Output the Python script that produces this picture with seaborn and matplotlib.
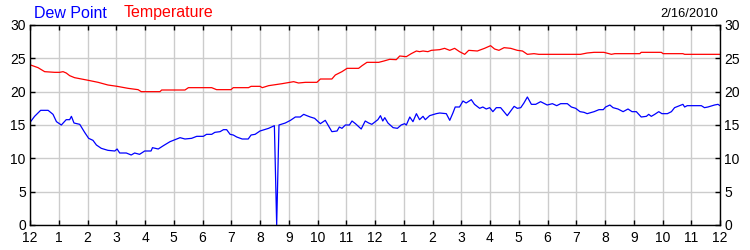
import matplotlib
matplotlib.use("Agg")
import matplotlib.pyplot as plt
import seaborn as sns
import pandas as pd

# ---- data (hours since midnight, values) ----
temp_hours = [0.02, 0.28, 0.51, 0.86, 1.03, 1.15, 1.26, 1.38, 1.55, 2.03, 2.37, 2.71, 3.03,
              3.41, 3.76, 3.87, 4.16, 4.52, 4.58, 5.39, 5.51, 6.32, 6.49, 6.99, 7.07, 7.60,
              7.69, 8.00, 8.08, 8.30, 8.77, 9.17, 9.34, 9.58, 9.98, 10.10, 10.50, 10.62,
              10.85, 11.03, 11.43, 11.55, 11.72, 12.13, 12.31, 12.51, 12.74, 12.86, 13.09,
              13.26, 13.44, 13.55, 13.67, 13.84, 13.96, 14.25, 14.42, 14.60, 14.77, 14.94,
              15.12, 15.26, 15.56, 15.81, 16.02, 16.16, 16.31, 16.49, 16.72, 16.95, 17.13,
              17.30, 17.53, 17.70, 19.15, 19.38, 19.62, 19.96, 20.14, 20.22, 20.34, 21.21,
              21.26, 21.96, 22.02, 22.71, 22.77, 24.00]
temp_values = [24.0, 23.6, 23.0, 22.9, 22.9, 23.0, 22.8, 22.4, 22.1, 21.7, 21.4, 21.0, 20.8,
               20.5, 20.3, 20.0, 20.0, 20.0, 20.25, 20.25, 20.6, 20.6, 20.3, 20.3, 20.6, 20.6,
               20.8, 20.8, 20.6, 20.9, 21.2, 21.5, 21.3, 21.4, 21.4, 21.9, 21.9, 22.5,
               23.0, 23.5, 23.5, 23.9, 24.4, 24.4, 24.6, 24.85, 24.8, 25.35, 25.25,
               25.7, 26.1, 26.0, 26.1, 26.0, 26.2, 26.3, 26.5, 26.2, 26.5, 26.0,
               25.6, 26.2, 26.1, 26.5, 26.9, 26.4, 26.2, 26.6, 26.5, 26.2, 26.1,
               25.6, 25.7, 25.6, 25.6, 25.8, 25.9, 25.9, 25.7, 25.6, 25.7, 25.7,
               25.9, 25.9, 25.7, 25.7, 25.6, 25.6]

dew_hours = [0.02, 0.16, 0.37, 0.63, 0.80, 0.92, 1.09, 1.26, 1.38, 1.44, 1.53, 1.73, 1.90,
             2.04, 2.19, 2.31, 2.48, 2.71, 2.95, 3.03, 3.12, 3.35, 3.52, 3.64, 3.81, 3.99,
             4.21, 4.26, 4.46, 4.64, 4.87, 5.04, 5.22, 5.39, 5.62, 5.80, 6.03, 6.14, 6.32,
             6.43, 6.61, 6.73, 6.84, 6.96, 7.07, 7.19, 7.38, 7.59, 7.69, 7.83, 8.00, 8.30,
             8.50, 8.58, 8.66, 8.88, 9.06, 9.23, 9.40, 9.52, 9.63, 9.75, 9.90, 10.10,
             10.27, 10.50, 10.68, 10.76, 10.85, 10.97, 11.11, 11.20, 11.32, 11.52, 11.66,
             11.78, 11.89, 12.01, 12.10, 12.19, 12.27, 12.34, 12.45, 12.63, 12.78, 12.91,
             13.03, 13.09, 13.21, 13.32, 13.44, 13.55, 13.67, 13.75, 13.90, 14.13, 14.25,
             14.48, 14.60, 14.71, 14.79, 14.94, 15.06, 15.17, 15.35, 15.46, 15.64, 15.75,
             15.87, 15.99, 16.10, 16.22, 16.37, 16.60, 16.84, 16.95, 17.07, 17.18, 17.30,
             17.44, 17.59, 17.76, 17.99, 18.17, 18.32, 18.46, 18.69, 18.83, 18.98, 19.13,
             19.27, 19.38, 19.62, 19.79, 19.94, 20.02, 20.17, 20.28, 20.45, 20.63, 20.80,
             20.94, 21.09, 21.26, 21.44, 21.52, 21.61, 21.73, 21.87, 21.98, 22.17, 22.31,
             22.42, 22.60, 22.71, 22.77, 22.86, 23.35, 23.46, 23.58, 23.81, 23.93, 24.00]
dew_values = [15.5, 16.3, 17.2, 17.2, 16.6, 15.5, 15.0, 15.8, 15.8, 16.3, 15.3, 15.1, 13.9,
              13.0, 12.7, 12.0, 11.5, 11.2, 11.1, 11.4, 10.8, 10.8, 10.5, 10.8, 10.6, 11.1,
              11.1, 11.6, 11.4, 11.9, 12.5, 12.8, 13.1, 12.9, 13.0, 13.3, 13.3, 13.6, 13.6,
              13.9, 14.0, 14.3, 14.3, 13.6, 13.5, 13.2, 12.9, 12.9, 13.5, 13.6, 14.1, 14.5,
              14.9, 0.0, 15.0, 15.3, 15.7, 16.2, 16.2, 16.6, 16.4, 16.2, 16.0, 15.2,
              15.7, 14.0, 14.1, 14.7, 14.5, 15.0, 15.0, 15.6, 15.2, 14.4, 15.6,
              15.3, 15.1, 15.5, 15.8, 16.4, 15.6, 16.1, 15.3, 14.6, 14.5, 15.0,
              15.2, 15.0, 16.2, 15.5, 16.7, 15.8, 16.3, 15.8, 16.4, 16.7, 16.8,
              16.7, 15.7, 16.8, 17.7, 17.7, 18.6, 18.3, 18.8, 18.1, 17.5, 17.7,
              17.4, 17.6, 17.0, 17.6, 17.6, 16.4, 17.8, 17.5, 17.6, 18.3, 19.2,
              18.1, 18.1, 18.5, 18.0, 18.2, 17.9, 18.2, 18.2, 17.7, 17.5, 17.0,
              16.9, 16.7, 17.0, 17.3, 17.3, 17.7, 18.0, 17.6, 17.4, 17.0, 17.4,
              17.0, 17.0, 16.2, 16.3, 16.6, 16.3, 16.6, 17.0, 16.7, 16.7, 17.0,
              17.6, 17.9, 18.1, 17.7, 17.9, 17.9, 17.6, 17.7, 18.0, 18.1, 17.9]

hour_ticks = list(range(0, 25))
hour_labels = ["12", "1", "2", "3", "4", "5", "6", "7", "8", "9", "10", "11",
               "12", "1", "2", "3", "4", "5", "6", "7", "8", "9", "10", "11", "12"]
y_ticks = [0, 5, 10, 15, 20, 25, 30]
date_label = "2/16/2010"

# ---- figure ----
sns.set_theme(style="white")
plt.rcParams["font.family"] = ["Liberation Sans", "DejaVu Sans"]

fig = plt.figure(figsize=(7.5, 2.5), dpi=100)
ax = fig.add_axes([0.04, 0.1, 0.92, 0.8])

temp_df = pd.DataFrame({"hour": temp_hours, "value": temp_values})
dew_df = pd.DataFrame({"hour": dew_hours, "value": dew_values})

sns.lineplot(data=temp_df, x="hour", y="value", ax=ax, color="#ff0000",
             linewidth=0.9, estimator=None, sort=False)
sns.lineplot(data=dew_df, x="hour", y="value", ax=ax, color="#0000ff",
             linewidth=0.9, estimator=None, sort=False)

ax.set_xlim(0, 24)
ax.set_ylim(0, 30)
ax.set_xticks(hour_ticks)
ax.set_xticklabels(hour_labels)
ax.set_yticks(y_ticks)
ax.set_xlabel("")
ax.set_ylabel("")

ax.grid(True, color="#cccccc", linewidth=1.0)
ax.set_axisbelow(True)
for s in ax.spines.values():
    s.set_color("black")
    s.set_linewidth(1.0)

ax.tick_params(axis="both", which="both", direction="in", length=3.5, width=1,
               color="black", labelsize=10, labelcolor="black",
               top=True, bottom=True, left=True, right=True,
               labelleft=True, labelright=True, pad=3)
ax.tick_params(axis="x", pad=4)

fig.text(0.045, 0.93, "Dew Point", color="#0000ff", fontsize=11.5, ha="left", va="baseline")
fig.text(0.165, 0.93, "Temperature", color="#ff0000", fontsize=11.5, ha="left", va="baseline")
fig.text(0.958, 0.932, date_label, color="black", fontsize=9.3, ha="right", va="baseline")

fig.savefig("out.png", dpi=100)
